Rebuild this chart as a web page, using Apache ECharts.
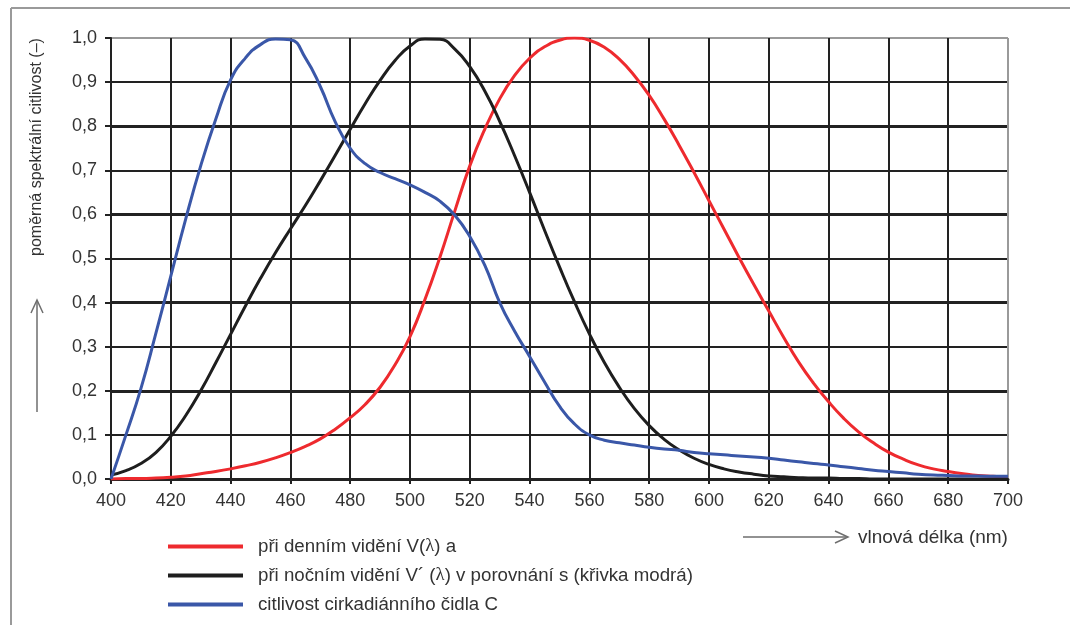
<!DOCTYPE html>
<html>
<head>
<meta charset="utf-8">
<script src="https://cdn.jsdelivr.net/npm/echarts@6/dist/echarts.min.js"></script>
<style>
  html, body { margin: 0; padding: 0; background: #ffffff; }
  #chart { width: 1070px; height: 625px; }
</style>
</head>
<body>
<div id="chart"></div>
<script>
// Wavelength samples (nm)
const wavelengths = [
  400, 405, 410, 415, 420, 425, 430, 435, 440, 445,
  450, 455, 460, 465, 470, 475, 480, 485, 490, 495,
  500, 505, 510, 515, 520, 525, 530, 535, 540, 545,
  550, 555, 560, 565, 570, 575, 580, 585, 590, 595,
  600, 605, 610, 615, 620, 625, 630, 635, 640, 645,
  650, 655, 660, 665, 670, 675, 680, 685, 690, 695, 700
];

// Photopic (day) sensitivity V(λ)
const dayVision = [
  0.000, 0.001, 0.001, 0.002, 0.004, 0.007, 0.012, 0.017, 0.023, 0.030,
  0.038, 0.048, 0.060, 0.074, 0.091, 0.113, 0.139, 0.169, 0.208, 0.259,
  0.323, 0.407, 0.503, 0.608, 0.710, 0.793, 0.862, 0.915, 0.954, 0.980,
  0.995, 1.000, 0.995, 0.979, 0.952, 0.915, 0.870, 0.816, 0.757, 0.695,
  0.631, 0.567, 0.503, 0.441, 0.381, 0.321, 0.265, 0.217, 0.175, 0.138,
  0.107, 0.082, 0.061, 0.045, 0.032, 0.023, 0.017, 0.012, 0.008, 0.006, 0.004
];

// Scotopic (night) sensitivity V'(λ)
const nightVision = [
  0.009, 0.019, 0.035, 0.060, 0.097, 0.144, 0.200, 0.263, 0.328, 0.393,
  0.455, 0.513, 0.567, 0.620, 0.676, 0.734, 0.793, 0.851, 0.904, 0.949,
  0.982, 0.998, 0.997, 0.975, 0.935, 0.880, 0.811, 0.733, 0.650, 0.564,
  0.481, 0.402, 0.329, 0.264, 0.208, 0.160, 0.121, 0.090, 0.066, 0.047,
  0.033, 0.023, 0.016, 0.011, 0.007, 0.005, 0.003, 0.002, 0.002, 0.001,
  0.001, 0.000, 0.000, 0.000, 0.000, 0.000, 0.000, 0.000, 0.000, 0.000, 0.000
];

// Circadian receptor sensitivity C(λ)
const circadian = [
  0.000, 0.100, 0.205, 0.330, 0.460, 0.590, 0.710, 0.815, 0.905, 0.955,
  0.985, 0.998, 0.996, 0.955, 0.890, 0.810, 0.750, 0.715, 0.695, 0.681,
  0.667, 0.650, 0.630, 0.598, 0.550, 0.485, 0.400, 0.335, 0.278, 0.220,
  0.165, 0.125, 0.100, 0.088, 0.082, 0.077, 0.072, 0.068, 0.065, 0.060,
  0.057, 0.055, 0.052, 0.050, 0.047, 0.043, 0.039, 0.035, 0.032, 0.028,
  0.024, 0.020, 0.017, 0.014, 0.011, 0.009, 0.008, 0.007, 0.007, 0.006, 0.006
];

const seriesNames = [
  'při denním vidění V(λ) a',
  'při nočním vidění V´ (λ) v porovnání s (křivka modrá)',
  'citlivost cirkadiánního čidla C'
];
const seriesColors = ['#ee2a2e', '#1e1e1e', '#3a57a8'];

const yAxisTitle = 'poměrná spektrální citlivost (–)';
const xAxisTitle = 'vlnová délka (nm)';

const xRange = { min: 400, max: 700, step: 20 };
const yRange = { min: 0, max: 1, step: 0.1 };

const FONT = '"Liberation Sans", Arial, sans-serif';
const TEXT = '#333333';
const GRID_DARK = '#222222';
const GRID_EDGE = '#9a9a9a';
const ARROW = '#6e6e6e';

function pairs(values) {
  return wavelengths.map((w, i) => [w, values[i]]);
}

// Split-line colours: the last line (plot edge) is drawn in grey.
function edgeColors(count) {
  const arr = [];
  for (let i = 0; i < count; i++) arr.push(i === count - 1 ? GRID_EDGE : GRID_DARK);
  return arr;
}

const xCount = Math.round((xRange.max - xRange.min) / xRange.step) + 1;
const yCount = Math.round((yRange.max - yRange.min) / yRange.step) + 1;

const chart = echarts.init(document.getElementById('chart'), null, { renderer: 'canvas' });

const dataSets = [dayVision, nightVision, circadian];

const option = {
  backgroundColor: '#ffffff',
  animation: false,
  grid: { left: 111, right: 62, top: 38, height: 441, containLabel: false },
  xAxis: {
    type: 'value',
    min: xRange.min, max: xRange.max, interval: xRange.step,
    axisLine: { show: true, onZero: false, lineStyle: { color: GRID_DARK, width: 3 } },
    axisTick: { show: true, length: 5, lineStyle: { color: GRID_DARK, width: 2 } },
    axisLabel: { margin: 13, color: TEXT, fontSize: 18, fontFamily: FONT },
    splitLine: { show: true, lineStyle: { color: edgeColors(xCount), width: 2 } }
  },
  yAxis: [
    {
      type: 'value',
      min: yRange.min, max: yRange.max, interval: yRange.step,
      axisLine: { show: true, lineStyle: { color: GRID_DARK, width: 2 } },
      axisTick: { show: true, length: 6, lineStyle: { color: GRID_DARK, width: 2 } },
      axisLabel: {
        margin: 14, color: TEXT, fontSize: 18, fontFamily: FONT,
        formatter: v => v.toFixed(1).replace('.', ',')
      },
      splitLine: { show: true, lineStyle: { color: edgeColors(yCount), width: 2 } }
    },
    {
      // heavier lines every 0.2
      type: 'value',
      min: yRange.min, max: yRange.max, interval: yRange.step * 2,
      position: 'left',
      axisLine: { show: false }, axisTick: { show: false }, axisLabel: { show: false },
      splitLine: { show: true, showMinLine: false, showMaxLine: false,
        lineStyle: { color: GRID_DARK, width: 3 } }
    }
  ],
  legend: {
    orient: 'vertical',
    left: 163, top: 532,
    itemWidth: 75, itemHeight: 4, itemGap: 10,
    icon: 'rect',
    selectedMode: false,
    data: seriesNames,
    formatter: name => {
      const parts = name.split('λ');
      let s = '{g|}{t|' + parts[0] + '}';
      for (let i = 1; i < parts.length; i++) s += '{l|λ}{t|' + parts[i] + '}';
      return s;
    },
    textStyle: {
      color: TEXT, fontSize: 18.7, fontFamily: FONT,
      rich: {
        g: { width: 10, height: 20 },
        t: { color: TEXT, fontSize: 18.7, fontFamily: FONT, lineHeight: 20 },
        l: { color: TEXT, fontSize: 18.7, fontFamily: '"Liberation Serif", serif', lineHeight: 20 }
      }
    }
  },
  series: dataSets.map((d, i) => ({
    name: seriesNames[i],
    type: 'line',
    data: pairs(d),
    smooth: true,
    showSymbol: false,
    symbol: 'none',
    z: 5 + i,
    lineStyle: { color: seriesColors[i], width: 3 },
    itemStyle: { color: seriesColors[i] }
  })),
  graphic: [
    // frame edges
    { type: 'line', shape: { x1: 11, y1: 8, x2: 1070, y2: 8 }, style: { stroke: GRID_EDGE, lineWidth: 2 } },
    { type: 'line', shape: { x1: 11, y1: 8, x2: 11, y2: 625 }, style: { stroke: GRID_EDGE, lineWidth: 2 } },
    // y axis title with arrow
    {
      type: 'text', x: 37, y: 147, rotation: Math.PI / 2,
      style: { text: yAxisTitle, fill: TEXT, font: '16px ' + FONT, align: 'center', verticalAlign: 'middle' }
    },
    { type: 'line', shape: { x1: 37, y1: 412, x2: 37, y2: 301 }, style: { stroke: ARROW, lineWidth: 1.5 } },
    { type: 'polyline', shape: { points: [[31, 313], [37, 300], [43, 313]] }, style: { stroke: ARROW, lineWidth: 1.5, fill: null } },
    // x axis title with arrow
    {
      type: 'text', x: 858, y: 538,
      style: { text: xAxisTitle, fill: TEXT, font: '19px ' + FONT, align: 'left', verticalAlign: 'middle' }
    },
    { type: 'line', shape: { x1: 743, y1: 537, x2: 847, y2: 537 }, style: { stroke: ARROW, lineWidth: 1.5 } },
    { type: 'polyline', shape: { points: [[835, 531], [848, 537], [835, 543]] }, style: { stroke: ARROW, lineWidth: 1.5, fill: null } }
  ]
};

chart.setOption(option);
</script>
</body>
</html>
